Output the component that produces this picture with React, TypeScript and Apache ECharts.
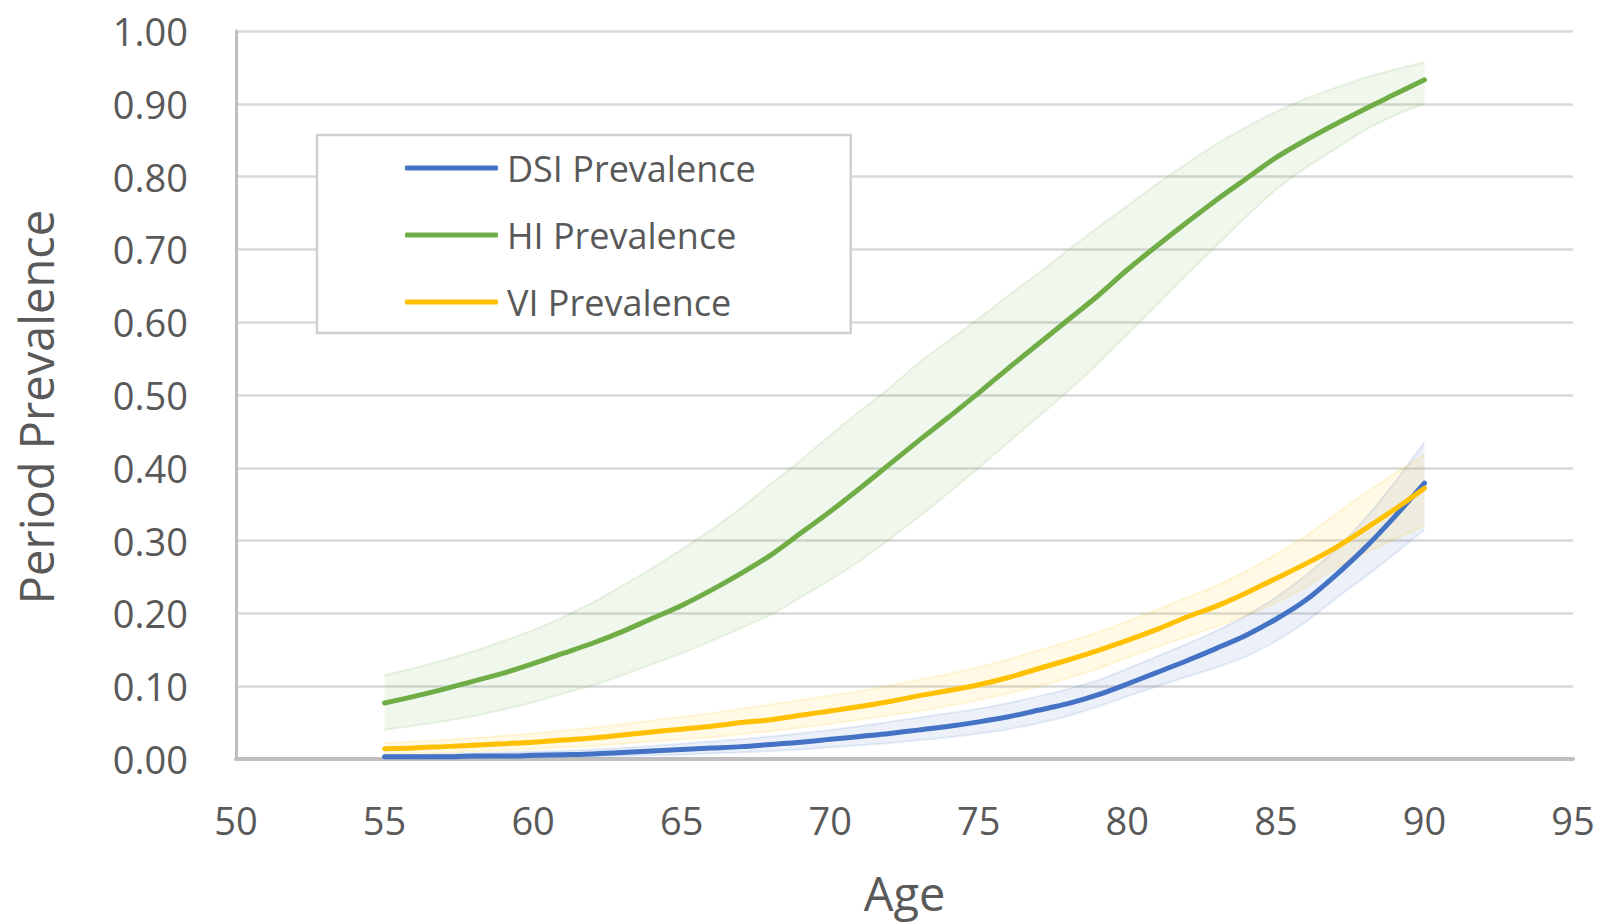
import React, { useEffect, useRef } from "react";
import * as echarts from "echarts";

const ages = [55, 56, 57, 58, 59, 60, 61, 62, 63, 64, 65, 66, 67, 68, 69, 70, 71, 72, 73, 74, 75, 76, 77, 78, 79, 80, 81, 82, 83, 84, 85, 86, 87, 88, 89, 90];

const dsi = [0.003, 0.003, 0.003, 0.004, 0.004, 0.005, 0.006, 0.007, 0.009, 0.011, 0.013, 0.015, 0.017, 0.020, 0.023, 0.027, 0.031, 0.035, 0.040, 0.045, 0.051, 0.058, 0.067, 0.076, 0.088, 0.103, 0.119, 0.135, 0.152, 0.170, 0.192, 0.218, 0.252, 0.290, 0.333, 0.379];
const dsiHigh = [0.006, 0.006, 0.007, 0.008, 0.009, 0.010, 0.011, 0.013, 0.015, 0.018, 0.021, 0.024, 0.027, 0.031, 0.035, 0.040, 0.045, 0.051, 0.057, 0.063, 0.069, 0.077, 0.086, 0.096, 0.108, 0.124, 0.141, 0.158, 0.176, 0.197, 0.222, 0.252, 0.287, 0.330, 0.380, 0.435];
const dsiLow = [0.001, 0.001, 0.001, 0.001, 0.002, 0.002, 0.003, 0.003, 0.004, 0.005, 0.006, 0.008, 0.009, 0.011, 0.013, 0.016, 0.019, 0.022, 0.026, 0.030, 0.035, 0.041, 0.049, 0.059, 0.072, 0.086, 0.100, 0.113, 0.126, 0.141, 0.162, 0.188, 0.220, 0.250, 0.282, 0.315];

const hi = [0.077, 0.086, 0.096, 0.107, 0.118, 0.131, 0.145, 0.159, 0.175, 0.193, 0.211, 0.232, 0.255, 0.280, 0.310, 0.340, 0.372, 0.405, 0.438, 0.470, 0.503, 0.537, 0.570, 0.603, 0.636, 0.672, 0.705, 0.737, 0.768, 0.797, 0.826, 0.850, 0.872, 0.893, 0.913, 0.933];
const hiHigh = [0.115, 0.125, 0.136, 0.148, 0.162, 0.177, 0.195, 0.215, 0.238, 0.262, 0.288, 0.315, 0.345, 0.378, 0.410, 0.445, 0.478, 0.510, 0.545, 0.575, 0.605, 0.637, 0.667, 0.699, 0.730, 0.760, 0.790, 0.818, 0.845, 0.868, 0.889, 0.907, 0.922, 0.936, 0.947, 0.957];
const hiLow = [0.040, 0.046, 0.052, 0.059, 0.068, 0.078, 0.090, 0.101, 0.115, 0.130, 0.145, 0.162, 0.180, 0.198, 0.222, 0.246, 0.272, 0.302, 0.333, 0.366, 0.400, 0.435, 0.470, 0.505, 0.543, 0.583, 0.624, 0.665, 0.705, 0.745, 0.782, 0.812, 0.838, 0.864, 0.884, 0.900];

const vi = [0.014, 0.015, 0.017, 0.019, 0.021, 0.023, 0.026, 0.029, 0.033, 0.037, 0.041, 0.045, 0.050, 0.054, 0.060, 0.066, 0.072, 0.079, 0.087, 0.094, 0.102, 0.112, 0.124, 0.136, 0.149, 0.163, 0.178, 0.195, 0.210, 0.228, 0.248, 0.268, 0.290, 0.316, 0.343, 0.372];
const viHigh = [0.022, 0.024, 0.026, 0.029, 0.032, 0.035, 0.039, 0.043, 0.048, 0.053, 0.058, 0.063, 0.069, 0.075, 0.081, 0.087, 0.093, 0.101, 0.109, 0.117, 0.126, 0.137, 0.149, 0.161, 0.174, 0.189, 0.205, 0.222, 0.238, 0.258, 0.281, 0.306, 0.336, 0.365, 0.392, 0.418];
const viLow = [0.007, 0.008, 0.009, 0.011, 0.012, 0.014, 0.016, 0.018, 0.021, 0.024, 0.027, 0.030, 0.034, 0.038, 0.043, 0.048, 0.054, 0.060, 0.066, 0.073, 0.081, 0.090, 0.100, 0.111, 0.124, 0.139, 0.154, 0.168, 0.182, 0.197, 0.214, 0.236, 0.262, 0.283, 0.302, 0.320];

const seriesNames = ["DSI Prevalence", "HI Prevalence", "VI Prevalence"];
const xTitle = "Age";
const yTitle = "Period Prevalence";

const FONT = "'Open Sans', 'Noto Sans', sans-serif";
const TEXT = "#595959";

const pairs = (ys: number[]) => ages.map((a, i) => [a, ys[i]]);

function band(id: string, low: number[], high: number[], fill: string, edge: string) {
  return {
    name: id + "-band",
    type: "custom",
    silent: true,
    z: 1,
    data: [[ages[0], low[0]]],
    encode: { x: 0, y: 1 },
    renderItem: (_params: any, api: any) => {
      const top = ages.map((a, i) => api.coord([a, high[i]]));
      const bottom = ages.map((a, i) => api.coord([a, low[i]])).reverse();
      return {
        type: "group",
        children: [
          {
            type: "polygon",
            shape: { points: top.concat(bottom) },
            style: { fill, stroke: "none" },
          },
          {
            type: "polyline",
            shape: { points: top, smooth: 0.3 },
            style: { fill: "none", stroke: edge, lineWidth: 2 },
          },
          {
            type: "polyline",
            shape: { points: bottom, smooth: 0.3 },
            style: { fill: "none", stroke: edge, lineWidth: 2 },
          },
        ],
      };
    },
  };
}

function mainLine(name: string, ys: number[], color: string) {
  return {
    name,
    type: "line",
    data: pairs(ys),
    symbol: "none",
    smooth: 0.3,
    lineStyle: { color, width: 5, cap: "round" },
    itemStyle: { color },
    z: 3,
  };
}

export default function App() {
  const ref = useRef<HTMLDivElement>(null);
  useEffect(() => {
    if (!ref.current) return;
    const chart = echarts.init(ref.current, null, { renderer: "svg" });
    chart.setOption({
      animation: false,
      backgroundColor: "#ffffff",
      grid: { left: 236, top: 31, right: 27, bottom: 165, containLabel: false },
      legend: {
        data: seriesNames,
        orient: "vertical",
        left: 317,
        top: 135,
        padding: [13, 95, 11, 88],
        itemGap: 27,
        itemWidth: 93,
        itemHeight: 5,
        icon: "roundRect",
        backgroundColor: "#ffffff",
        borderColor: "#d0d0d0",
        borderWidth: 2.5,
        borderRadius: 0,
        selectedMode: false,
        z: 10,
        textStyle: {
          fontFamily: FONT,
          fontSize: 36,
          color: TEXT,
          lineHeight: 40,
          padding: [0, 0, 0, 4],
        },
      },
      xAxis: {
        type: "value",
        min: 50,
        max: 95,
        interval: 5,
        name: xTitle,
        nameLocation: "middle",
        nameGap: 110,
        nameTextStyle: { fontFamily: FONT, fontSize: 47, color: TEXT },
        axisLine: { show: true, lineStyle: { color: "#bfbfbf", width: 4 } },
        axisTick: { show: false },
        splitLine: { show: false },
        axisLabel: { fontFamily: FONT, fontSize: 38, color: TEXT, margin: 42 },
      },
      yAxis: {
        type: "value",
        min: 0,
        max: 1,
        interval: 0.1,
        name: yTitle,
        nameLocation: "middle",
        nameGap: 177,
        nameTextStyle: { fontFamily: FONT, fontSize: 47, color: TEXT, padding: [0, 24, 0, 0] },
        axisLine: { show: true, lineStyle: { color: "#bfbfbf", width: 3 } },
        axisTick: { show: false },
        splitLine: { show: true, lineStyle: { color: "#d9d9d9", width: 2.5 } },
        axisLabel: {
          fontFamily: FONT,
          fontSize: 38,
          color: TEXT,
          margin: 48,
          formatter: (v: number) => v.toFixed(2),
        },
      },
      series: [
        band("hi", hiLow, hiHigh, "rgba(112,173,71,0.10)", "rgba(112,173,71,0.13)"),
        band("dsi", dsiLow, dsiHigh, "rgba(68,114,196,0.10)", "rgba(68,114,196,0.13)"),
        band("vi", viLow, viHigh, "rgba(255,192,0,0.10)", "rgba(255,192,0,0.13)"),
        mainLine(seriesNames[0], dsi, "#4472C4"),
        mainLine(seriesNames[1], hi, "#70AD47"),
        mainLine(seriesNames[2], vi, "#FFC000"),
      ],
    });
    return () => chart.dispose();
  }, []);
  return (
    <div
      ref={ref}
      style={{ position: "fixed", left: 0, top: 0, width: 1600, height: 924, background: "#fff" }}
    />
  );
}
